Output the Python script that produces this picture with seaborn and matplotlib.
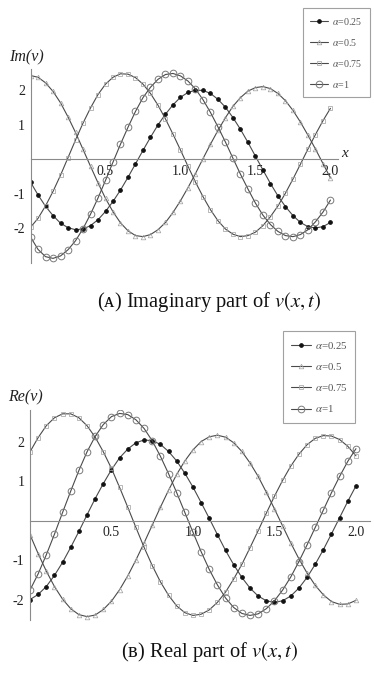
import numpy as np
import pandas as pd
import matplotlib
matplotlib.use("Agg")
import matplotlib.pyplot as plt
from matplotlib.ticker import MultipleLocator, FixedLocator
import seaborn as sns

# sample points (markers every 0.05)
x = np.linspace(0, 2, 41)

# (A) imaginary part
im_025 = [-0.67, -1.04, -1.37, -1.64, -1.86, -1.99, -2.05, -2.03, -1.93, -1.76, -1.52,
          -1.23, -0.90, -0.53, -0.14, 0.25, 0.63, 0.99, 1.30, 1.57, 1.79, 1.93, 1.99,
          1.99, 1.90, 1.73, 1.50, 1.20, 0.86, 0.48, 0.08, -0.32, -0.71, -1.07, -1.38,
          -1.64, -1.84, -1.96, -2.00, -1.96, -1.84]
im_05 = [2.42, 2.37, 2.21, 1.96, 1.63, 1.22, 0.77, 0.28, -0.21, -0.69, -1.14, -1.53,
         -1.85, -2.08, -2.22, -2.25, -2.19, -2.05, -1.84, -1.55, -1.21, -0.83, -0.42,
         0.01, 0.43, 0.83, 1.20, 1.53, 1.78, 1.97, 2.07, 2.10, 2.04, 1.90, 1.69, 1.41,
         1.07, 0.69, 0.29, -0.13, -0.55]
im_075 = [-1.98, -1.72, -1.36, -0.94, -0.47, 0.04, 0.55, 1.04, 1.48, 1.87, 2.17, 2.37,
          2.47, 2.46, 2.36, 2.17, 1.90, 1.56, 1.16, 0.72, 0.26, -0.21, -0.67, -1.09,
          -1.47, -1.79, -2.03, -2.18, -2.25, -2.22, -2.12, -1.93, -1.67, -1.36, -0.99,
          -0.58, -0.15, 0.29, 0.71, 1.11, 1.47]
im_1 = [-2.26, -2.62, -2.83, -2.88, -2.81, -2.63, -2.37, -2.02, -1.60, -1.13, -0.62,
        -0.09, 0.43, 0.92, 1.38, 1.78, 2.08, 2.31, 2.45, 2.48, 2.41, 2.26, 2.03, 1.72,
        1.35, 0.93, 0.49, 0.02, -0.44, -0.87, -1.28, -1.63, -1.90, -2.10, -2.22, -2.25,
        -2.19, -2.05, -1.82, -1.54, -1.19]

# (B) real part
re_025 = [-1.99, -1.86, -1.66, -1.38, -1.05, -0.67, -0.27, 0.15, 0.56, 0.94, 1.29, 1.59,
          1.81, 1.97, 2.04, 2.02, 1.93, 1.75, 1.51, 1.20, 0.85, 0.46, 0.06, -0.35, -0.75,
          -1.11, -1.43, -1.70, -1.90, -2.02, -2.06, -2.02, -1.90, -1.70, -1.43, -1.10,
          -0.73, -0.33, 0.08, 0.49, 0.88]
re_05 = [-0.35, -0.83, -1.27, -1.66, -1.98, -2.22, -2.37, -2.42, -2.38, -2.24, -2.03,
         -1.74, -1.39, -0.99, -0.56, -0.11, 0.34, 0.77, 1.17, 1.51, 1.79, 2.00, 2.12,
         2.16, 2.11, 1.97, 1.75, 1.46, 1.12, 0.72, 0.30, -0.13, -0.56, -0.96, -1.32,
         -1.63, -1.87, -2.04, -2.11, -2.10, -2.01]
re_075 = [1.74, 2.10, 2.40, 2.60, 2.70, 2.70, 2.60, 2.40, 2.11, 1.74, 1.32, 0.84, 0.34,
          -0.17, -0.67, -1.13, -1.54, -1.88, -2.15, -2.32, -2.39, -2.36, -2.25, -2.06,
          -1.80, -1.47, -1.10, -0.68, -0.25, 0.19, 0.62, 1.02, 1.38, 1.68, 1.92, 2.08,
          2.15, 2.14, 2.05, 1.88, 1.64]
re_1 = [-1.75, -1.34, -0.86, -0.34, 0.21, 0.75, 1.27, 1.74, 2.13, 2.43, 2.63, 2.71,
        2.68, 2.55, 2.33, 2.02, 1.63, 1.19, 0.71, 0.21, -0.29, -0.78, -1.23, -1.62,
        -1.95, -2.19, -2.34, -2.39, -2.35, -2.22, -2.02, -1.75, -1.42, -1.03, -0.61,
        -0.17, 0.27, 0.71, 1.12, 1.50, 1.82]

labels = [r"$\alpha$=0.25", r"$\alpha$=0.5", r"$\alpha$=0.75", r"$\alpha$=1"]
xticks = [0.5, 1.0, 1.5, 2.0]
xticklabels = ["0.5", "1.0", "1.5", "2.0"]
yticks = [-2, -1, 1, 2]
yticklabels = ["-2", "-1", "1", "2"]

sns.set_style("white")
plt.rcParams['font.family'] = ['Liberation Serif', 'DejaVu Serif']
plt.rcParams['mathtext.fontset'] = 'stix'
plt.rcParams['axes.unicode_minus'] = False

line_col = "#4a4a4a"
styles = [
    dict(marker="o", markersize=2.6, markerfacecolor="#111111", markeredgecolor="#111111"),
    dict(marker="^", markersize=3.3, markerfacecolor="none", markeredgecolor="#a5a5a5", markeredgewidth=0.55),
    dict(marker="s", markersize=3.1, markerfacecolor="none", markeredgecolor="#a5a5a5", markeredgewidth=0.55),
    dict(marker="o", markersize=4.8, markerfacecolor="none", markeredgecolor="#7a7a7a", markeredgewidth=0.7),
]


def panel(ax, series, xlim, ylim, ylab, show_x):
    for ys, lab, st in zip(series, labels, styles):
        sns.lineplot(x=x, y=ys, ax=ax, color=line_col, linewidth=0.8, label=lab, **st)
    ax.set_xlim(*xlim)
    ax.set_ylim(*ylim)
    for s in ["top", "right"]:
        ax.spines[s].set_visible(False)
    ax.spines["left"].set_position(("data", 0))
    ax.spines["bottom"].set_position(("data", 0))
    for s in ["left", "bottom"]:
        ax.spines[s].set_color("#8a8a8a")
        ax.spines[s].set_linewidth(0.8)
    ax.xaxis.set_major_locator(FixedLocator(xticks))
    ax.set_xticklabels(xticklabels)
    ax.yaxis.set_major_locator(FixedLocator(yticks))
    ax.set_yticklabels(yticklabels)
    ax.xaxis.set_minor_locator(MultipleLocator(0.1))
    ax.yaxis.set_minor_locator(MultipleLocator(0.2))
    ax.tick_params(which="major", direction="in", length=3.5, width=0.6, color="#8a8a8a",
                   labelsize=10, labelcolor="#222222")
    ax.tick_params(which="minor", direction="in", length=2, width=0.5, color="#aaaaaa")
    ax.tick_params(axis="x", which="major", pad=4)
    ax.tick_params(axis="y", which="major", pad=4)
    ax.set_xlabel("")
    ax.set_ylabel("")
    ax.patch.set_alpha(0)
    ax.text(-0.03, ylim[1] + 0.12, ylab, style="italic", fontsize=11.5, ha="center",
            va="bottom", color="#222222")
    if show_x:
        ax.text(xlim[1] + 0.02, 0.15, "x", style="italic", fontsize=11, ha="left",
                va="center", color="#222222")


fig = plt.figure(figsize=(3.74, 6.75), dpi=100)
axA = fig.add_axes([0.0816, 0.6111, 0.822, 0.2862])
axB = fig.add_axes([0.0802, 0.0818, 0.909, 0.311])

panel(axA, [im_025, im_05, im_075, im_1], (0, 2.05), (-3.0, 2.6), "Im(v)", True)
panel(axB, [re_025, re_05, re_075, re_1], (0, 2.086), (-2.5, 2.8), "Re(v)", False)

for ax, anchor, fs, sp in [(axA, (0.810, 0.988), 7.2, 1.0), (axB, (0.757, 0.509), 7.8, 0.95)]:
    h, l = ax.get_legend_handles_labels()
    leg = ax.legend(h, l, loc="upper left", bbox_to_anchor=anchor, bbox_transform=fig.transFigure,
                    frameon=True, fancybox=False, edgecolor="#8a8a8a", fontsize=fs,
                    labelspacing=sp, handlelength=1.8, handletextpad=0.35, borderpad=0.75,
                    borderaxespad=0)
    leg.get_frame().set_linewidth(0.8)
    for t in leg.get_texts():
        t.set_color("#555555")

fig.text(0.559, 1 - 301.7 / 675, "(ᴀ) Imaginary part of $v(x, t)$", ha="center", va="center",
         fontsize=14.8, color="#111111")
fig.text(0.559, 1 - 651.7 / 675, "(ʙ) Real part of $v(x, t)$", ha="center", va="center",
         fontsize=14.8, color="#111111")

fig.savefig("out.png", dpi=100)
